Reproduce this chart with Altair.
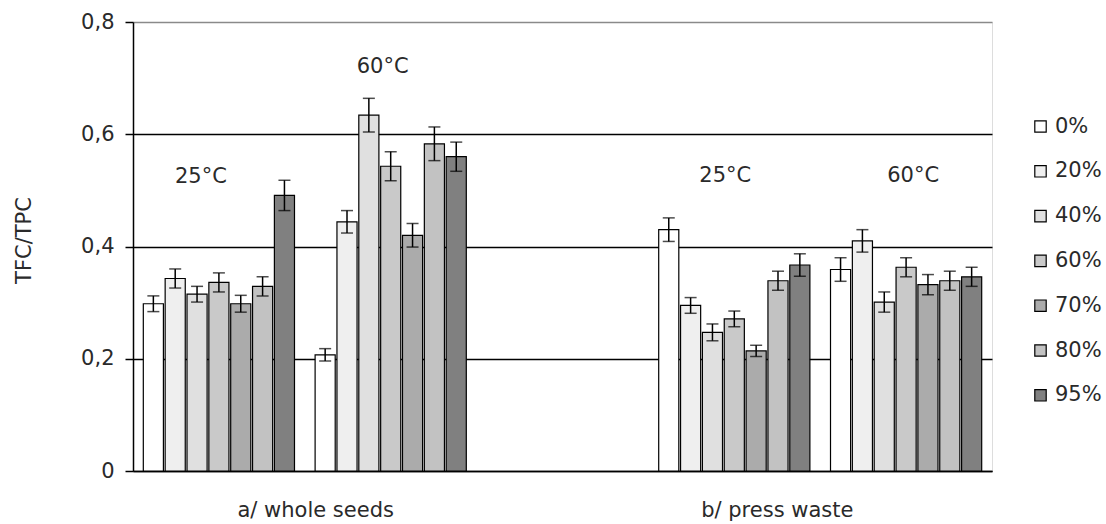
import altair as alt
import pandas as pd

# ---- data ----
slots = ["WS25", "WS60", "gap", "PW25", "PW60"]
conc = ["0%", "20%", "40%", "60%", "70%", "80%", "95%"]

ws25 = [0.298, 0.343, 0.315, 0.336, 0.298, 0.329, 0.491]
ws25_err = [0.014, 0.017, 0.014, 0.017, 0.015, 0.017, 0.027]
ws60 = [0.207, 0.444, 0.634, 0.543, 0.420, 0.583, 0.560]
ws60_err = [0.011, 0.020, 0.030, 0.026, 0.021, 0.030, 0.026]
pw25 = [0.430, 0.295, 0.247, 0.271, 0.214, 0.339, 0.367]
pw25_err = [0.021, 0.014, 0.015, 0.014, 0.010, 0.017, 0.020]
pw60 = [0.359, 0.410, 0.301, 0.363, 0.332, 0.339, 0.346]
pw60_err = [0.021, 0.020, 0.018, 0.017, 0.018, 0.017, 0.017]

temp_slots = ["WS25", "WS60", "PW25", "PW60"]
temp_labels = ["25°C", "60°C", "25°C", "60°C"]
temp_y = [0.523, 0.720, 0.526, 0.526]

fills = ["#ffffff", "#efefef", "#e0e0e0", "#c9c9c9", "#ababab", "#c2c2c2", "#808080"]

rows = []
for slot, vals, errs in [("WS25", ws25, ws25_err), ("WS60", ws60, ws60_err),
                         ("PW25", pw25, pw25_err), ("PW60", pw60, pw60_err)]:
    for c, v, e in zip(conc, vals, errs):
        rows.append({"slot": slot, "conc": c, "value": v, "lo": v - e, "hi": v + e})
df = pd.DataFrame(rows)

FONT = "DejaVu Sans"
FS = 21
TXT = "#2a2a2a"

W, H = 859, 449

xscale = alt.Scale(domain=slots, paddingInner=0.12, paddingOuter=0.06)
yscale = alt.Scale(domain=[0, 0.8], nice=False)
xoff = alt.XOffset("conc:N", sort=conc, scale=alt.Scale(domain=conc, paddingInner=0.08))

x_enc = alt.X("slot:N", scale=xscale, sort=slots,
              axis=alt.Axis(labels=False, ticks=False, title=None, domainColor="black",
                            domainWidth=1.5))

bars = alt.Chart(df).mark_bar(stroke="black", strokeWidth=1.2).encode(
    x=x_enc,
    xOffset=xoff,
    y=alt.Y("value:Q", scale=yscale,
            axis=alt.Axis(values=[0, 0.2, 0.4, 0.6, 0.8], title="TFC/TPC",
                          labelExpr="datum.value == 0 ? '0' : replace(format(datum.value, '.1f'), '.', ',')",
                          labelFont=FONT, labelFontSize=FS, labelColor=TXT, labelPadding=11,
                          tickSize=8, tickColor="black", tickWidth=1.5,
                          domainColor="black", domainWidth=1.5,
                          grid=True, gridWidth=1.5,
                          gridColor={"condition": {"test": "datum.value >= 0.8", "value": "#8a8a8a"},
                                     "value": "black"},
                          titleFont=FONT, titleFontSize=FS, titleFontWeight="normal",
                          titleColor=TXT, titleX=-109, titleY=218, titleBaseline="middle")),
    fill=alt.Fill("conc:N", sort=conc, scale=alt.Scale(domain=conc, range=fills),
                  legend=alt.Legend(title=None, orient="none", legendX=897, legendY=94,
                                    symbolType="square", symbolSize=130,
                                    symbolStrokeColor="black", symbolStrokeWidth=1.2,
                                    labelFont=FONT, labelFontSize=FS, labelColor=TXT,
                                    rowPadding=22.8, labelOffset=4, padding=0)),
)

rules = alt.Chart(df).mark_rule(color="black", strokeWidth=1.5).encode(
    x=alt.X("slot:N", scale=xscale, sort=slots),
    xOffset=xoff,
    y=alt.Y("lo:Q", scale=yscale),
    y2="hi:Q",
)
caps_lo = alt.Chart(df).mark_tick(color="black", thickness=1.5, size=12).encode(
    x=alt.X("slot:N", scale=xscale, sort=slots),
    xOffset=xoff,
    y=alt.Y("lo:Q", scale=yscale),
)
caps_hi = alt.Chart(df).mark_tick(color="black", thickness=1.5, size=12).encode(
    x=alt.X("slot:N", scale=xscale, sort=slots),
    xOffset=xoff,
    y=alt.Y("hi:Q", scale=yscale),
)

# temperature annotations, small horizontal nudges to match the reference
temp_nudge = [-18, -8, -9, 7]
temp_layers = []
for s, lab, yv, nd in zip(temp_slots, temp_labels, temp_y, temp_nudge):
    temp_layers.append(
        alt.Chart(pd.DataFrame({"slot": [s], "label": [lab], "y": [yv]})).mark_text(
            font=FONT, fontSize=FS, color=TXT, baseline="middle", dx=nd).encode(
            x=alt.X("slot:N", scale=xscale, sort=slots),
            y=alt.Y("y:Q", scale=yscale),
            text="label:N",
        )
    )

cat_a = alt.Chart(pd.DataFrame({"slot": ["WS60"], "label": ["a/ whole seeds"]})).mark_text(
    font=FONT, fontSize=FS, color=TXT, baseline="middle", dx=-75).encode(
    x=alt.X("slot:N", scale=xscale, sort=slots), y=alt.value(H + 40), text="label:N")
cat_b = alt.Chart(pd.DataFrame({"slot": ["PW25"], "label": ["b/ press waste"]})).mark_text(
    font=FONT, fontSize=FS, color=TXT, baseline="middle", dx=43).encode(
    x=alt.X("slot:N", scale=xscale, sort=slots), y=alt.value(H + 40), text="label:N")

chart = alt.layer(bars, rules, caps_lo, caps_hi, *temp_layers, cat_a, cat_b).properties(
    width=W, height=H,
    padding={"left": 133, "top": 22, "right": 114, "bottom": 53},
    autosize=alt.AutoSizeParams(type="none"),
).configure_view(stroke="#8a8a8a", strokeWidth=1.5).configure(background="white")

chart.save("out.html", embed_options={"renderer": "svg", "actions": False})
